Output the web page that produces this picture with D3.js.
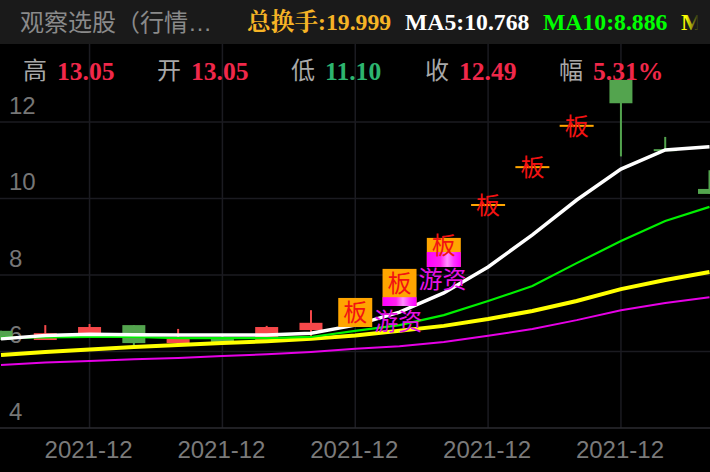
<!DOCTYPE html>
<html><head><meta charset="utf-8">
<script src="https://cdn.jsdelivr.net/npm/d3@7/dist/d3.min.js"></script>
<style>html,body{margin:0;padding:0;background:#000;overflow:hidden}svg{display:block}</style>
</head><body><svg id="c" width="710" height="472"></svg>
<script>
const title = "观察选股（行情…";
const xIndex = d3.range(17);
const xTickIdx = [2,5,8,11,14];
const xTickLabels = ["2021-12","2021-12","2021-12","2021-12","2021-12"];
const yTicks = [4,6,8,10,12];
const opens  = [6.54,6.30,6.46,6.69,6.22,6.38,6.30,6.56,6.64,7.19,8.21,9.83,10.82,11.90,13.10,11.29,10.25];
const closes = [6.30,6.48,6.64,6.22,6.33,6.25,6.64,6.75,7.40,8.16,8.97,9.83,10.82,11.90,12.49,11.24,10.12];
const highs  = [6.54,6.69,6.72,6.69,6.59,6.46,6.67,7.08,7.40,8.16,8.97,9.83,10.82,11.90,13.10,11.61,10.74];
const lows   = [6.30,6.30,6.46,6.17,6.20,6.25,6.30,6.35,6.64,7.19,8.21,9.83,10.82,11.90,11.10,11.24,10.12];
const limitUp = [8,9,10,11,12,13];
const magentaTop = {9:7.42,10:8.60};
const hotMoney = [{i:8,v:6.56},{i:9,v:7.66}];
const ma5  = [6.33,6.42,6.45,6.44,6.43,6.43,6.43,6.48,6.69,7.03,7.53,8.21,9.05,9.96,10.768,11.27,11.35];
const ma10 = [6.36,6.37,6.38,6.38,6.35,6.35,6.35,6.38,6.54,6.69,6.95,7.32,7.71,8.31,8.886,9.41,9.78];
const ma20 = [5.91,5.99,6.05,6.12,6.17,6.22,6.27,6.33,6.42,6.54,6.67,6.85,7.06,7.32,7.63,7.87,8.08];
const ma30 = [5.65,5.71,5.75,5.80,5.83,5.88,5.93,5.99,6.07,6.14,6.25,6.41,6.59,6.82,7.08,7.27,7.42];
const headerItems = [
 {t:"总换手:19.999",x:247,c:"#f6b426"},
 {t:"MA5:10.768",x:405,c:"#ffffff"},
 {t:"MA10:8.886",x:543,c:"#00ff00"},
 {t:"M",x:681,c:"#ffff00"}];
const infoLabels = ["高","开","低","收","幅"];
const infoValues = ["13.05","13.05","11.10","12.49","5.31%"];
const infoColors = ["#f0284a","#f0284a","#2db56f","#f0284a","#f0284a"];
const infoX = [23,157,291,425,559];

const svg = d3.select("#c");
const x = d3.scaleLinear().domain([0,16]).range([1,709.5]);
const y = d3.scaleLinear().domain([4,12]).range([428,122]);
const SANS = "'Liberation Sans',Arial,sans-serif", CJK = "'Noto Sans CJK SC',sans-serif", TITLE = "'Liberation Sans','Noto Sans CJK SC',sans-serif", SERIF = "'Liberation Serif','Noto Serif CJK SC','Noto Sans CJK SC',serif";

const defs = svg.append("defs");
const g1 = defs.append("linearGradient").attr("id","mg");
[[0,"#ff00ff"],[.4,"#ff20f0"],[.6,"#ff90ff"],[.8,"#ff30ff"],[1,"#ff00ff"]].forEach(s=>g1.append("stop").attr("offset",s[0]).attr("stop-color",s[1]));
const hdrFade = defs.append("linearGradient").attr("id","fade");
hdrFade.append("stop").attr("offset",0).attr("stop-color","#1a1a1a").attr("stop-opacity",0);
hdrFade.append("stop").attr("offset",1).attr("stop-color","#1a1a1a").attr("stop-opacity",1);

// grid
const grid = svg.append("g");
grid.selectAll("line.v").data(xTickIdx).join("line").attr("class","v")
 .attr("x1",d=>x(d)).attr("x2",d=>x(d)).attr("y1",44).attr("y2",428).attr("stroke","#1b1b21").attr("stroke-width",1.5);
grid.selectAll("line.h").data(yTicks.filter(d=>d>4)).join("line").attr("class","h")
 .attr("x1",0).attr("x2",710).attr("y1",d=>y(d)).attr("y2",d=>y(d)).attr("stroke","#1b1b21").attr("stroke-width",1.5);
svg.append("line").attr("x1",0).attr("x2",710).attr("y1",428).attr("y2",428).attr("stroke","#2b2b31").attr("stroke-width",1.5);

// axes
const ay = svg.append("g")
 .call(d3.axisRight(y).tickValues(yTicks).tickSize(0).tickPadding(9));
ay.select(".domain").remove();
ay.selectAll("text").attr("font-family",SANS).attr("font-size",24).attr("fill","#767676").attr("dy",0).attr("y",-9);
const ax = svg.append("g").attr("transform","translate(0,428)")
 .call(d3.axisBottom(x).tickValues(xTickIdx).tickFormat((d,i)=>xTickLabels[i]).tickSize(0).tickPadding(0));
ax.select(".domain").remove();
ax.selectAll("text").attr("font-family",SANS).attr("font-size",24).attr("fill","#7a7a7a").attr("dy",0).attr("y",30).attr("x",-1.5);

// candles
const plain = xIndex.filter(i=>!limitUp.includes(i));
const col = i=> closes[i]>=opens[i] ? "#f6484a" : "#53a44e";
const c = svg.append("g");
c.selectAll("line").data(plain).join("line")
 .attr("x1",x).attr("x2",x).attr("y1",i=>y(highs[i])).attr("y2",i=>y(lows[i])).attr("stroke",col).attr("stroke-width",2);
c.selectAll("rect").data(plain).join("rect")
 .attr("x",i=>x(i)-11.5).attr("width",23)
 .attr("y",i=>y(Math.max(opens[i],closes[i])))
 .attr("height",i=>Math.max(2,Math.abs(y(opens[i])-y(closes[i])))).attr("fill",col);

// moving averages
const line = d3.line().x((d,i)=>x(i)).y(d=>y(d));
[[ma30,"#e600e6",2],[ma20,"#ffff00",4],[ma10,"#00f000",2.2],[ma5,"#ffffff",3.5]].forEach(([s,cl,w])=>{
 svg.append("path").datum(s).attr("d",line).attr("fill","none").attr("stroke",cl).attr("stroke-width",w);
});

// limit-up marks
const lu = svg.append("g");
const bw = 34;
lu.selectAll("rect.o").data(limitUp).join("rect").attr("class","o")
 .attr("x",i=>x(i)-bw/2).attr("width",bw)
 .attr("y",i=>y(closes[i])-(closes[i]===opens[i]?1:0))
 .attr("height",i=>Math.max(2,y(opens[i])-y(closes[i]))).attr("fill","#ffa500");
lu.selectAll("rect.m").data(limitUp.filter(i=>magentaTop[i]!==undefined)).join("rect").attr("class","m")
 .attr("x",i=>x(i)-bw/2).attr("width",bw)
 .attr("y",i=>y(magentaTop[i])).attr("height",i=>y(opens[i])-y(magentaTop[i])).attr("fill","url(#mg)");
lu.selectAll("text").data(limitUp).join("text")
 .attr("x",x).attr("y",i=>{
   const bottom = magentaTop[i]!==undefined ? magentaTop[i] : opens[i];
   return (y(closes[i])+y(bottom))/2 + 9;
 })
 .attr("text-anchor","middle").attr("font-family",CJK).attr("font-size",24).attr("fill","#f21212").text("板");
svg.append("g").selectAll("text").data(hotMoney).join("text")
 .attr("x",d=>x(d.i)+19).attr("y",d=>y(d.v)).attr("font-family",CJK).attr("font-size",24).attr("fill","#e512e5").text("游资");

// header
svg.append("rect").attr("width",710).attr("height",44).attr("fill","#1a1a1a");
svg.append("text").attr("x",20).attr("y",30.5).attr("font-family",TITLE).attr("font-size",24).attr("fill","#8a8a8a").text(title);
svg.append("g").selectAll("text").data(headerItems).join("text")
 .attr("x",d=>d.x).attr("y",30).attr("font-family",SERIF).attr("font-weight",700).attr("font-size",23.7)
 .attr("fill",d=>d.c).text(d=>d.t);
svg.append("rect").attr("x",686).attr("width",13).attr("height",44).attr("fill","url(#fade)");
svg.append("rect").attr("x",698).attr("width",12).attr("height",44).attr("fill","#1a1a1a");

// info row
svg.append("g").selectAll("text").data(infoLabels).join("text")
 .attr("x",(d,i)=>infoX[i]).attr("y",79).attr("font-family",CJK).attr("font-size",24).attr("fill","#a8a8a8").text(d=>d);
svg.append("g").selectAll("text").data(infoValues).join("text")
 .attr("x",(d,i)=>infoX[i]+34).attr("y",80).attr("font-family",SERIF).attr("font-weight",700).attr("font-size",25.6)
 .attr("fill",(d,i)=>infoColors[i]).text(d=>d);
</script></body></html>
